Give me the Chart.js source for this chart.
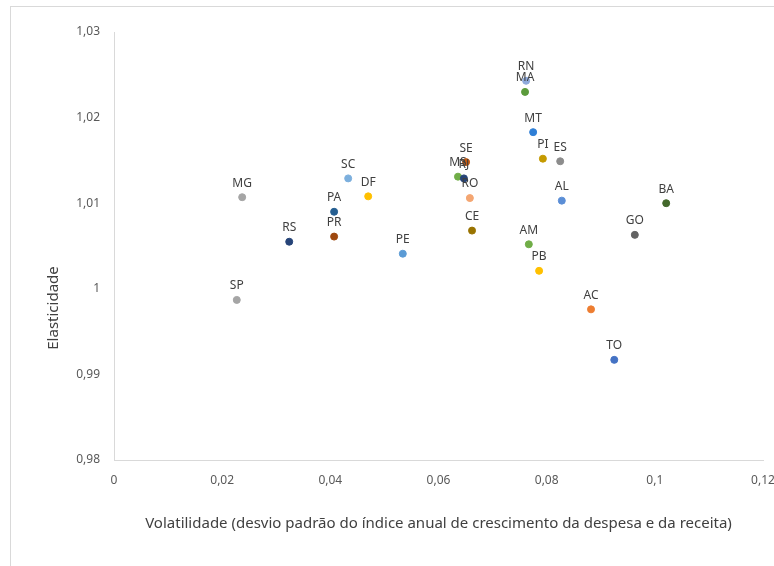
<!DOCTYPE html>
<html>
<head>
<meta charset="utf-8">
<script src="https://cdn.jsdelivr.net/npm/chart.js@4"></script>
<style>
  html, body { margin: 0; padding: 0; background: #fff; overflow: hidden; }
  #frame { position: absolute; left: 10px; top: 6px; width: 900px; height: 700px; border: 1px solid #d9d9d9; }
  #wrap { position: absolute; left: 0; top: 0; width: 800px; height: 566px; }
</style>
</head>
<body>
<div id="frame"></div>
<div id="wrap"><canvas id="chart" width="800" height="566"></canvas></div>
<script>
const states = ["RN", "MA", "MT", "PI", "ES", "SE", "MS", "RJ", "RO", "AL", "BA", "GO", "CE",
  "AM", "PB", "AC", "TO", "SC", "MG", "DF", "PA", "RS", "PR", "PE", "SP"];
const volatility = [0.0762, 0.0760, 0.0775, 0.0793, 0.0825, 0.0651, 0.0636, 0.0647, 0.0658, 0.0828,
  0.1021, 0.0963, 0.0662, 0.0767, 0.0786, 0.0882, 0.0925, 0.0433, 0.0237, 0.0470, 0.0407, 0.0324,
  0.0407, 0.0534, 0.0227];
const elasticity = [1.0243, 1.0230, 1.0183, 1.0152, 1.0149, 1.0148, 1.0131, 1.0129, 1.0106, 1.0103,
  1.0100, 1.0063, 1.0068, 1.0052, 1.0021, 0.9976, 0.9917, 1.0129, 1.0107, 1.0108, 1.0090, 1.0055,
  1.0061, 1.0041, 0.9987];
const pointColors = ["#8faadc", "#5b9b3c", "#2f7fd6", "#c59a00", "#8c8c8c", "#c55a11", "#70ad47",
  "#264478", "#f4a672", "#5b8ed6", "#43682b", "#636363", "#997300", "#70ad47", "#ffc000", "#ed7d31",
  "#4472c4", "#7cafdd", "#a5a5a5", "#ffc000", "#255e91", "#264478", "#9e480e", "#5b9bd5", "#a5a5a5"];
const yTitle = "Elasticidade";
const xTitle = "Volatilidade (desvio padrão do índice anual de crescimento da despesa e da receita)";

const fmt = v => Number(v.toFixed(2)).toString().replace(".", ",");

// state labels above each point + the y axis title (Excel puts it lower than centre)
const extras = {
  id: "extras",
  afterDatasetsDraw(chart) {
    const ctx = chart.ctx;
    const meta = chart.getDatasetMeta(0);
    ctx.save();
    ctx.font = "12px 'Noto Sans'";
    ctx.fillStyle = "#404040";
    ctx.textAlign = "center";
    ctx.textBaseline = "middle";
    meta.data.forEach((pt, i) => {
      ctx.fillText(states[i], pt.x, pt.y - 14);
    });
    ctx.font = "15px 'Noto Sans'";
    ctx.translate(54, 308);
    ctx.rotate(-Math.PI / 2);
    ctx.fillText(yTitle, 0, 0);
    ctx.restore();
  }
};

new Chart(document.getElementById("chart"), {
  type: "scatter",
  data: {
    datasets: [{
      data: volatility.map((x, i) => ({ x: x, y: elasticity[i] })),
      backgroundColor: pointColors,
      borderColor: pointColors,
      pointRadius: 3.5,
      pointHoverRadius: 3.5
    }]
  },
  options: {
    responsive: false,
    animation: false,
    layout: { padding: { left: 0, right: 37, top: 32, bottom: 33 } },
    plugins: { legend: { display: false }, tooltip: { enabled: false } },
    scales: {
      x: {
        type: "linear",
        min: 0,
        max: 0.12,
        grid: { display: false },
        border: { display: true, color: "#d9d9d9", width: 1 },
        ticks: {
          stepSize: 0.02,
          padding: 5,
          color: "#595959",
          font: { family: "'Noto Sans'", size: 12 },
          maxRotation: 0,
          callback: v => fmt(v)
        },
        title: {
          display: true,
          text: xTitle,
          color: "#404040",
          font: { family: "'Noto Sans'", size: 15 },
          padding: 0
        },
        afterFit: s => { s.height = 73; }
      },
      y: {
        min: 0.98,
        max: 1.03,
        grid: { display: false },
        border: { display: true, color: "#d9d9d9", width: 1 },
        ticks: {
          stepSize: 0.01,
          padding: 6,
          color: "#595959",
          font: { family: "'Noto Sans'", size: 12 },
          callback: v => fmt(v)
        },
        afterFit: s => { s.width = 114; }
      }
    }
  },
  plugins: [extras]
});
</script>
</body>
</html>
